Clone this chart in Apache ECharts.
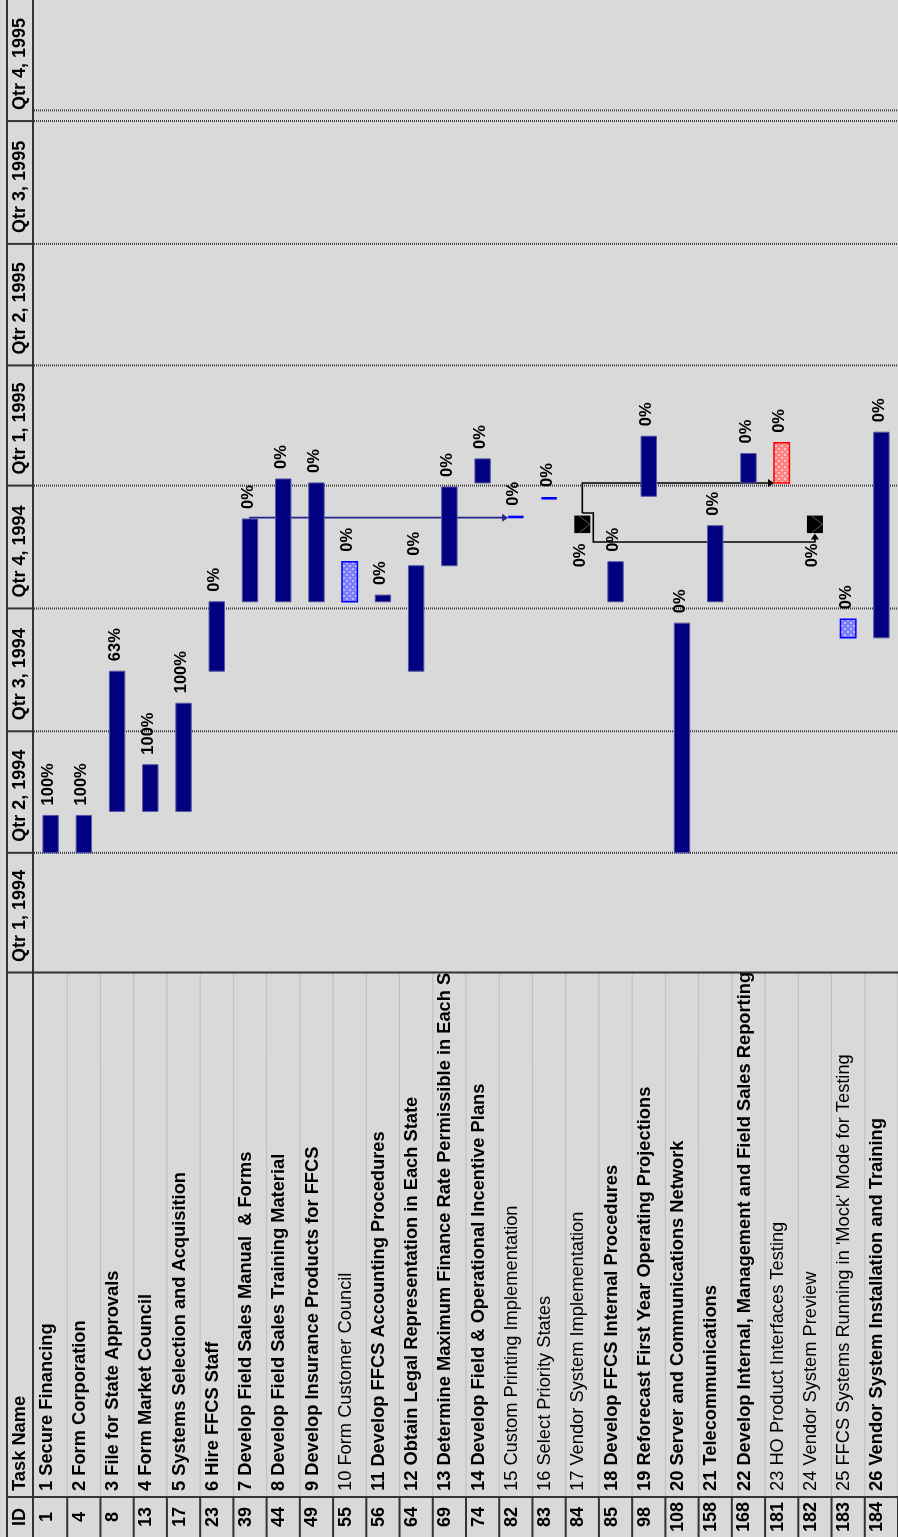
<!DOCTYPE html>
<html>
<head>
<meta charset="utf-8">
<script src="https://cdn.jsdelivr.net/npm/echarts@6/dist/echarts.min.js"></script>
<style>
html,body{margin:0;padding:0;background:#d9d9d9;}
#chart{width:898px;height:1537px;}
</style>
</head>
<body>
<div id="chart"></div>
<script>
// ---- Task table ----
const taskIds = [1, 4, 8, 13, 17, 23, 39, 44, 49, 55, 56, 64, 69, 74, 82, 83, 84, 85, 98, 108, 158, 168, 181, 182, 183, 184];
const taskNames = [
  '1 Secure Financing',
  '2 Form Corporation',
  '3 File for State Approvals',
  '4 Form Market Council',
  '5 Systems Selection and Acquisition',
  '6 Hire FFCS Staff',
  '7 Develop Field Sales Manual  & Forms',
  '8 Develop Field Sales Training Material',
  '9 Develop Insurance Products for FFCS',
  '10 Form Customer Council',
  '11 Develop FFCS Accounting Procedures',
  '12 Obtain Legal Representation in Each State',
  '13 Determine Maximum Finance Rate Permissible in Each State',
  '14 Develop Field & Operational Incentive Plans',
  '15 Custom Printing Implementation',
  '16 Select Priority States',
  '17 Vendor System Implementation',
  '18 Develop FFCS Internal Procedures',
  '19 Reforecast First Year Operating Projections',
  '20 Server and Communications Network',
  '21 Telecommunications',
  '22 Develop Internal, Management and Field Sales Reporting',
  '23 HO Product Interfaces Testing',
  '24 Vendor System Preview',
  "25 FFCS Systems Running in 'Mock' Mode for Testing",
  '26 Vendor System Installation and Training'
];
const taskBold = [true, true, true, true, true, true, true, true, true, false, true, true, true, true, false, false, false, true, true, true, true, true, false, false, false, true];
const taskStart = ['1994-04-01', '1994-04-01', '1994-05-02', '1994-05-02', '1994-05-02', '1994-08-15', '1994-10-06', '1994-10-06', '1994-10-06', '1994-10-06', '1994-10-06', '1994-08-15', '1994-11-02', '1995-01-03', '1994-12-08', '1994-12-22', '1994-12-03', '1994-10-06', '1994-12-24', '1994-04-01', '1994-10-06', '1995-01-03', '1995-01-03', '1994-12-03', '1994-09-09', '1994-09-09'];
const taskFinish = ['1994-04-29', '1994-04-29', '1994-08-15', '1994-06-06', '1994-07-22', '1994-10-06', '1994-12-07', '1995-01-06', '1995-01-03', '1994-11-05', '1994-10-11', '1994-11-02', '1994-12-31', '1995-01-21', '1994-12-09', '1994-12-23', '1994-12-03', '1994-11-05', '1995-02-07', '1994-09-20', '1994-12-02', '1995-01-25', '1995-02-02', '1994-12-03', '1994-09-23', '1995-02-10'];
const taskDone = [100, 100, 63, 100, 100, 0, 0, 0, 0, 0, 0, 0, 0, 0, 0, 0, 0, 0, 0, 0, 0, 0, 0, 0, 0, 0];
// bar style per task: plain task, light (subtask) bar, critical bar, milestone
const taskKind = ['task', 'task', 'task', 'task', 'task', 'task', 'task', 'task', 'task', 'light', 'task', 'task', 'task', 'task', 'light', 'light', 'milestone', 'task', 'task', 'task', 'task', 'task', 'critical', 'milestone', 'light', 'task'];

// ---- Finish-to-start links (row indexes) ----
const linkFrom = [6, 16, 16];
const linkTo = [14, 22, 23];

// ---- Timescale ----
const quarterStarts = ['1994-01-01', '1994-04-01', '1994-07-01', '1994-10-01', '1995-01-01', '1995-04-01', '1995-07-01', '1995-10-01'];
const quarterLabels = ['Qtr 1, 1994', 'Qtr 2, 1994', 'Qtr 3, 1994', 'Qtr 4, 1994', 'Qtr 1, 1995', 'Qtr 2, 1995', 'Qtr 3, 1995', 'Qtr 4, 1995'];
const extraLineDates = ['1995-10-09'];

const DAY = 86400000;
function ts(s) {
  const p = s.split('-').map(Number);
  return Date.UTC(p[0], p[1] - 1, p[2]);
}
const axisMin = ts('1994-01-01');
const axisMax = axisMin + 728.65 * DAY;

const FONT = '"Liberation Sans", Arial, Helvetica, sans-serif';
const HEAD_X0 = 7, HEAD_X1 = 33;      // header column (rotated table header)
const TIME_BOTTOM = 973;              // table starts below the timescale
const ID_TOP = 1497;                  // ID column
const PAGE_H = 1537, PAGE_W = 898;

function dotPattern(base, dot) {
  const c = document.createElement('canvas');
  c.width = 6; c.height = 6;
  const g = c.getContext('2d');
  g.fillStyle = base; g.fillRect(0, 0, 6, 6);
  g.fillStyle = dot;
  g.fillRect(1, 1, 2, 2);
  g.fillRect(4, 4, 2, 2);
  return c;
}
const lightFill = { image: dotPattern('#7c7cff', '#b9b9ff'), repeat: 'repeat' };
const critFill = { image: dotPattern('#ff8282', '#ffc4c4'), repeat: 'repeat' };

const BAR_W = 15.4;
const MS_W = 16, MS_H = 17.5;

function rotText(x, y, text, font, align) {
  return {
    type: 'text', x: x, y: y, rotation: Math.PI / 2,
    style: { text: text, font: font, fill: '#000', align: align || 'left', verticalAlign: 'middle' }
  };
}

const chart = echarts.init(document.getElementById('chart'), null, { renderer: 'canvas' });

const option = {
  backgroundColor: '#d9d9d9',
  animation: false,
  useUTC: true,
  grid: [
    { left: 34, top: 0, width: 869, height: TIME_BOTTOM },
    { left: 34, top: TIME_BOTTOM, width: 869, height: ID_TOP - TIME_BOTTOM }
  ],
  xAxis: [
    { gridIndex: 0, type: 'category', data: taskIds.map(String), show: false },
    { gridIndex: 1, type: 'category', data: taskIds.map(String), show: false }
  ],
  yAxis: [
    { gridIndex: 0, type: 'time', min: axisMin, max: axisMax, show: false },
    { gridIndex: 1, type: 'value', min: 0, max: 1, show: false }
  ],
  series: [
    // quarter gridlines and timescale header cells
    {
      type: 'custom', xAxisIndex: 0, yAxisIndex: 0, z: 1, silent: true,
      data: quarterStarts.map((d, k) => [0, ts(d)]),
      encode: { x: 0, y: 1 },
      renderItem: function (params, api) {
        const k = params.dataIndex;
        const cs = params.coordSys;
        const y = api.coord([0, api.value(1)])[1];
        const children = [];
        if (k > 0) {
          children.push({ type: 'line', shape: { x1: cs.x, y1: y, x2: PAGE_W, y2: y },
            style: { stroke: '#3c3c3c', lineWidth: 2, lineDash: [1, 1] } });
          children.push({ type: 'line', shape: { x1: HEAD_X0, y1: y, x2: HEAD_X1, y2: y },
            style: { stroke: '#333', lineWidth: 2 } });
        }
        children.push(rotText((HEAD_X0 + HEAD_X1) / 2, y - 11, quarterLabels[k], 'bold 18px ' + FONT));
        return { type: 'group', children: children };
      }
    },
    // extra dotted date line
    {
      type: 'custom', xAxisIndex: 0, yAxisIndex: 0, z: 1, silent: true,
      data: extraLineDates.map(d => [0, ts(d)]),
      encode: { x: 0, y: 1 },
      renderItem: function (params, api) {
        const cs = params.coordSys;
        const y = api.coord([0, api.value(1)])[1];
        return { type: 'line', shape: { x1: cs.x, y1: y, x2: PAGE_W, y2: y },
          style: { stroke: '#3c3c3c', lineWidth: 2, lineDash: [1, 1] } };
      }
    },
    // links
    {
      type: 'custom', xAxisIndex: 0, yAxisIndex: 0, z: 3, silent: true,
      data: linkFrom.map((f, k) => [f, ts(taskFinish[f]), linkTo[k], ts(taskStart[linkTo[k]])]),
      encode: { x: [0, 2], y: [1, 3] },
      renderItem: function (params, api) {
        const k = params.dataIndex;
        const f = linkFrom[k], t = linkTo[k];
        const a = api.coord([f, api.value(1)]);
        const b = api.coord([t, api.value(3)]);
        const srcMs = taskKind[f] === 'milestone';
        const dstMs = taskKind[t] === 'milestone';
        const color = srcMs ? '#000' : '#23238c';
        const y0 = srcMs ? a[1] - MS_H / 2 - 2.5 : a[1];
        let pts, head;
        if (b[1] < y0 - 1) {
          const tipX = b[0] - BAR_W / 2;
          pts = [[a[0], y0], [a[0], b[1]], [tipX - 4, b[1]]];
          head = [[tipX, b[1]], [tipX - 6, b[1] - 4], [tipX - 6, b[1] + 4]];
        } else {
          const side = a[0] + 11;
          const low = a[1] + (srcMs ? MS_H / 2 : 0) + 9;
          const tipY = b[1] + (dstMs ? MS_H / 2 : 0) + 0.5;
          pts = [[a[0], y0], [side, y0], [side, low], [b[0], low], [b[0], tipY + 4]];
          head = [[b[0], tipY], [b[0] - 4, tipY + 6], [b[0] + 4, tipY + 6]];
        }
        return { type: 'group', children: [
          { type: 'polyline', shape: { points: pts }, style: { stroke: color, lineWidth: 1.6, fill: null } },
          { type: 'polygon', shape: { points: head }, style: { fill: color } }
        ] };
      }
    },
    // task bars, milestones and completion labels
    {
      type: 'custom', xAxisIndex: 0, yAxisIndex: 0, z: 4, silent: true,
      data: taskIds.map((id, i) => [i, ts(taskStart[i]), ts(taskFinish[i])]),
      encode: { x: 0, y: [1, 2] },
      renderItem: function (params, api) {
        const i = params.dataIndex;
        const pS = api.coord([i, api.value(1)]);
        const pF = api.coord([i, api.value(2)]);
        const xc = pS[0];
        const kind = taskKind[i];
        const children = [];
        let labelY;
        if (kind === 'milestone') {
          const yc = pS[1];
          children.push({ type: 'rect', shape: { x: xc - MS_W / 2, y: yc - MS_H / 2, width: MS_W, height: MS_H },
            style: { fill: '#000' } });
          children.push({ type: 'polyline',
            shape: { points: [[xc - MS_W / 2 + 5, yc - MS_H / 2 + 0.5], [xc + MS_W / 2 - 0.5, yc], [xc - MS_W / 2 + 5, yc + MS_H / 2 - 0.5]] },
            style: { stroke: '#5a5a5a', lineWidth: 1, fill: null } });
          labelY = yc + 43;
        } else {
          let top = pF[1], bottom = pS[1];
          let h = bottom - top;
          let style;
          if (kind === 'light') {
            if (h < 4) {
              h = 2.6; top = (pF[1] + pS[1]) / 2 - 1.3;
              style = { fill: '#0000ff' };
            } else {
              style = { fill: lightFill, stroke: '#0000ff', lineWidth: 1.5 };
            }
          } else if (kind === 'critical') {
            style = { fill: critFill, stroke: '#ff0000', lineWidth: 1.5 };
          } else {
            style = { fill: '#000080', stroke: '#5656a2', lineWidth: 1 };
          }
          children.push({ type: 'rect', shape: { x: xc - BAR_W / 2, y: top, width: BAR_W, height: h }, style: style });
          labelY = top - 10;
        }
        children.push(rotText(xc - 2, labelY, taskDone[i] + '%', 'bold 16.5px ' + FONT));
        return { type: 'group', children: children };
      }
    },
    // task name column (clipped to its cell area)
    {
      type: 'custom', xAxisIndex: 1, yAxisIndex: 1, z: 2, silent: true, clip: true,
      data: taskIds.map((id, i) => [i, 0]),
      encode: { x: 0, y: 1 },
      renderItem: function (params, api) {
        const i = params.dataIndex;
        const cs = params.coordSys;
        const xc = api.coord([i, 0])[0];
        const band = api.size([1, 0])[0];
        const font = (taskBold[i] ? 'bold ' : '') + '18.3px ' + FONT;
        return { type: 'group', children: [
          { type: 'line', shape: { x1: xc + band / 2, y1: cs.y, x2: xc + band / 2, y2: cs.y + cs.height },
            style: { stroke: '#bdbdbd', lineWidth: 1 } },
          rotText(xc - 4, cs.y + cs.height - 6, taskNames[i], font)
        ] };
      }
    },
    // ID column
    {
      type: 'custom', xAxisIndex: 1, yAxisIndex: 1, z: 2, silent: true,
      data: taskIds.map((id, i) => [i, 0]),
      encode: { x: 0, y: 1 },
      renderItem: function (params, api) {
        const i = params.dataIndex;
        const cs = params.coordSys;
        const xc = api.coord([i, 0])[0];
        const band = api.size([1, 0])[0];
        const yBottom = cs.y + cs.height;
        return { type: 'group', children: [
          { type: 'line', shape: { x1: xc + band / 2, y1: yBottom, x2: xc + band / 2, y2: PAGE_H },
            style: { stroke: '#333', lineWidth: 2 } },
          rotText(xc - 4, (yBottom + PAGE_H) / 2, String(taskIds[i]), 'bold 18px ' + FONT, 'center')
        ] };
      }
    }
  ],
  graphic: [
    { type: 'line', z: 10, silent: true, shape: { x1: HEAD_X0, y1: 0, x2: HEAD_X0, y2: PAGE_H }, style: { stroke: '#333', lineWidth: 2 } },
    { type: 'line', z: 10, silent: true, shape: { x1: HEAD_X1, y1: 0, x2: HEAD_X1, y2: PAGE_H }, style: { stroke: '#333', lineWidth: 2 } },
    { type: 'line', z: 10, silent: true, shape: { x1: HEAD_X0, y1: TIME_BOTTOM - 0.5, x2: PAGE_W, y2: TIME_BOTTOM - 0.5 }, style: { stroke: '#333', lineWidth: 2 } },
    { type: 'line', z: 10, silent: true, shape: { x1: HEAD_X0, y1: ID_TOP, x2: PAGE_W, y2: ID_TOP }, style: { stroke: '#333', lineWidth: 2 } },
    { type: 'text', z: 10, silent: true, x: (HEAD_X0 + HEAD_X1) / 2, y: (ID_TOP + PAGE_H) / 2, rotation: Math.PI / 2,
      style: { text: 'ID', font: 'bold 18px ' + FONT, fill: '#000', align: 'center', verticalAlign: 'middle' } },
    { type: 'text', z: 10, silent: true, x: (HEAD_X0 + HEAD_X1) / 2, y: ID_TOP - 6, rotation: Math.PI / 2,
      style: { text: 'Task Name', font: 'bold 18.3px ' + FONT, fill: '#000', align: 'left', verticalAlign: 'middle' } }
  ]
};
chart.setOption(option);
</script>
</body>
</html>
